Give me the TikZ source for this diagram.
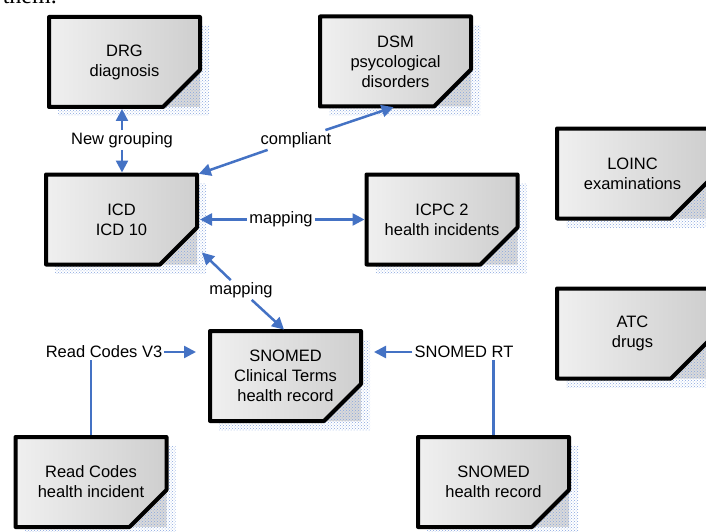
\documentclass[tikz,border=0pt]{standalone}
\usepackage{fontspec}
\setmainfont{Liberation Sans}
\newfontfamily\serifft{Liberation Serif}
\usetikzlibrary{arrows.meta,patterns,calc}
\pgfdeclarelayer{bg}
\pgfsetlayers{bg,main}
\definecolor{arrblue}{RGB}{68,114,196}
\definecolor{shadowblue}{RGB}{135,165,222}
\tikzset{
  boxtext/.style={minimum width=151pt, minimum height=90pt, inner sep=0pt, outer sep=0pt, align=center, font=\fontsize{16.5}{20}\selectfont},
  lbl/.style={font=\fontsize{16.5}{20}\selectfont, inner sep=2pt},
  arr/.style={draw=arrblue, line width=2.5pt, -{Triangle[length=12pt,width=12pt]}},
  link/.style={draw=arrblue, line width=2.5pt},
  boxline/.style={line width=4pt, draw=black, line join=round},
  shadowpat/.style={pattern=crosshatch dots, pattern color=shadowblue},
}
\newcommand\docbox[3]{%
  \node[boxtext] (#1) at (#2) {#3};
  \begin{pgfonlayer}{bg}
    \fill[shadowpat] ([shift={(9,9)}]#1.south west) rectangle ([shift={(9,9)}]#1.north east);
    \fill[gray!30] ([shift={(-37,0)}]#1.south east) -- (#1.south east) -- ([shift={(0,-37)}]#1.south east) -- cycle;
    \fill[shadowpat] ([shift={(-37,0)}]#1.south east) -- (#1.south east) -- ([shift={(0,-37)}]#1.south east) -- cycle;
    \draw[boxline, left color=gray!12, right color=gray!38] (#1.north west) -- (#1.north east) -- ([shift={(0,-37)}]#1.south east) -- ([shift={(-37,0)}]#1.south east) -- (#1.south west) -- cycle;
  \end{pgfonlayer}
}
\begin{document}
\begin{tikzpicture}[x=1pt,y=-1pt]
\useasboundingbox (0,0) rectangle (706,532);
\node[font=\serifft\fontsize{24}{24}\selectfont, anchor=base east, inner sep=0pt] (them) at (57,4) {them.};

\docbox{DRG}{124.5,62}{DRG\\diagnosis}
\docbox{DSM}{395.5,61.5}{DSM\\psycological\\disorders}
\docbox{ICD}{121.5,219.5}{ICD\\ICD 10}
\docbox{ICPC}{442,219.5}{ICPC 2\\health incidents}
\docbox{LOINC}{632.5,173.5}{LOINC\\examinations}
\docbox{ATC}{632.5,333.5}{ATC\\drugs}
\docbox{SCT}{285.5,376}{SNOMED\\Clinical Terms\\health record}
\docbox{RC}{91,482}{Read Codes\\health incident}
\docbox{SHR}{493.5,482}{SNOMED\\health record}

\node[lbl] (ng) at (122,140) {New grouping};
\draw[arr, shorten >=2pt] (ng.north) -- (ng.north |- DRG.south);
\draw[arr, shorten >=2pt] (ng.south) -- (ng.south |- ICD.north);

\node[lbl] (cp) at (296,140) {compliant};
\draw[arr, shorten >=2pt] (cp) -- (ICD.north east);
\draw[arr, shorten >=2pt] (cp) -- (DSM.south);

\node[lbl] (mp1) at (281,219.5) {mapping};
\draw[arr, shorten >=3pt] (mp1) -- (ICD.east);
\draw[arr, shorten >=2pt] (mp1) -- (ICPC.west);

\node[lbl] (mp2) at (241,290) {mapping};
\coordinate (icdin) at ($(ICD.east)+(5,33)$);
\draw[arr] (mp2) -- (icdin);
\draw[arr, shorten >=2pt] (mp2) -- (SCT.north);

\node[lbl] (rv3) at (104,352) {Read Codes V3};
\draw[arr, shorten >=14pt] (rv3.east) -- (rv3.east -| SCT.west);
\draw[link, shorten >=2pt] (rv3.south -| RC.north) -- (RC.north);

\node[lbl] (srt) at (464,352) {SNOMED RT};
\draw[arr, shorten >=13pt] (srt.west) -- (srt.west -| SCT.east);
\draw[link, shorten >=2pt] (srt.south -| SHR.north) -- (SHR.north);
\end{tikzpicture}
\end{document}
